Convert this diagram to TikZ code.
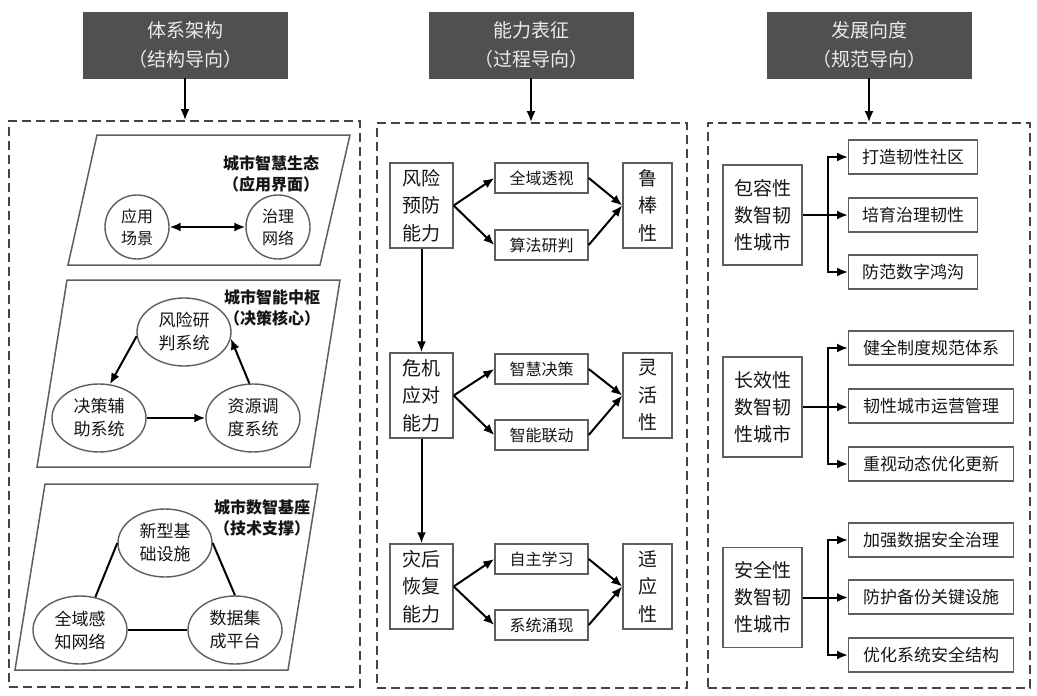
\documentclass[tikz,border=0pt]{standalone}
\usepackage{fontspec}
\setmainfont{Noto Sans CJK SC}
\usetikzlibrary{arrows.meta,shapes.geometric,calc}
\definecolor{hdrgray}{HTML}{505050}
\definecolor{linegray}{HTML}{5E5E5E}
\definecolor{dashgray}{HTML}{444444}
\definecolor{txt}{HTML}{151515}
\begin{document}
\begin{tikzpicture}[x=1pt,y=-1pt,
  hdr/.style={fill=hdrgray, draw=hdrgray, text=white!92!black, minimum width=204pt, minimum height=66pt, inner sep=0pt, align=center, font=\fontsize{19}{29}\selectfont},
  dbox/.style={draw=dashgray, line width=1.8pt, dash pattern=on 9pt off 5pt, inner sep=0pt},
  pline/.style={draw=linegray, line width=1.5pt},
  ell/.style={ellipse, draw=linegray, line width=1.4pt, minimum width=94pt, minimum height=68pt, inner sep=0pt, align=center, text=txt, font=\fontsize{17}{23}\selectfont},
  circ/.style={circle, draw=linegray, line width=1.4pt, minimum size=64pt, inner sep=0pt, align=center, text=txt, font=\fontsize{16}{22}\selectfont},
  ptitle/.style={align=center, text=txt, inner sep=0pt, font=\bfseries\fontsize{16}{21}\selectfont},
  mbox/.style={draw=linegray, line width=1.4pt, minimum width=63pt, minimum height=85pt, inner sep=0pt, align=center, text=txt, font=\fontsize{19}{27.5}\selectfont},
  sbox/.style={draw=linegray, line width=1.4pt, minimum width=93pt, minimum height=30pt, inner sep=0pt, align=center, text=txt, font=\fontsize{16}{20}\selectfont},
  rbox/.style={draw=linegray, line width=1.4pt, minimum width=49pt, minimum height=85pt, inner sep=0pt, align=center, text=txt, font=\fontsize{19}{27.5}\selectfont},
  rmain/.style={draw=linegray, line width=1.4pt, minimum width=79pt, minimum height=100pt, inner sep=0pt, align=center, text=txt, font=\fontsize{19}{27}\selectfont},
  rsubA/.style={draw=linegray, line width=1.4pt, anchor=west, minimum width=129pt, minimum height=34pt, inner sep=0pt, align=center, text=txt, font=\fontsize{17}{20}\selectfont},
  rsubB/.style={rsubA, minimum width=165pt},
  arr/.style={-{Latex[length=11pt,width=9pt]}, line width=2pt, black},
  darr/.style={{Latex[length=11pt,width=9pt]}-{Latex[length=11pt,width=9pt]}, line width=2pt, black},
  lnk/.style={line width=2pt, black}
]
\useasboundingbox[fill=white] (0,0) rectangle (1037,696);

% headers
\node[hdr] (h1) at (185,45) {体系架构\\（结构导向）};
\node[hdr] (h2) at (531,45) {能力表征\\（过程导向）};
\node[hdr] (h3) at (869,45) {发展向度\\（规范导向）};

% dashed frames
\node[dbox, minimum width=351pt, minimum height=566pt] (f1) at (184.5,404) {};
\node[dbox, minimum width=310pt, minimum height=565pt] (f2) at (532,405.5) {};
\node[dbox, minimum width=322pt, minimum height=565pt] (f3) at (869,405.5) {};

\draw[arr] (h1.south) -- (h1.south |- f1.north);
\draw[arr] (h2.south) -- (h2.south |- f2.north);
\draw[arr] (h3.south) -- (h3.south |- f3.north);

% ---------- left column ----------
\draw[pline] (97,135) -- (350,135) -- (320,265) -- (68,265) -- cycle;
\node[ptitle] (t1) at (271,174) {城市智慧生态\\（应用界面）};
\node[circ] (c1) at (137,227) {应用\\场景};
\node[circ] (c2) at (278,227) {治理\\网络};
\draw[darr] (c1) -- (c2);

\draw[pline] (67,280) -- (340,280) -- (310,467) -- (37,467) -- cycle;
\node[ptitle] (t2) at (272,308) {城市智能中枢\\（决策核心）};
\node[ell] (e1) at (184,332) {风险研\\判系统};
\node[ell] (e2) at (99,418) {决策辅\\助系统};
\node[ell] (e3) at (253,418) {资源调\\度系统};
\draw[arr] (e1.185) -- (e2.72);
\draw[arr] (e2.east) -- (e3.west);
\draw[arr] (e3.96) -- (e1.-8);

\draw[pline] (45,484) -- (318,484) -- (288,670) -- (15,670) -- cycle;
\node[ptitle] (t3) at (262,518) {城市数智基座\\（技术支撑）};
\node[ell] (g1) at (165,543) {新型基\\础设施};
\node[ell] (g2) at (80,630) {全域感\\知网络};
\node[ell] (g3) at (235,630) {数据集\\成平台};
\draw[lnk] (g1.west) -- (g2.65);
\draw[lnk] (g1.east) -- (g3.north);
\draw[lnk] (g2.east) -- (g3.west);

% ---------- middle column ----------
\node[mbox] (m1) at (421.5,205.5) {风险\\预防\\能力};
\node[sbox] (s11) at (541.5,178) {全域透视};
\node[sbox] (s12) at (541.5,245) {算法研判};
\node[rbox] (r1) at (647.5,205.5) {鲁\\棒\\性};

\node[mbox] (m2) at (421.5,395.5) {危机\\应对\\能力};
\node[sbox] (s21) at (541.5,369) {智慧决策};
\node[sbox] (s22) at (541.5,435) {智能联动};
\node[rbox] (r2) at (647.5,395.5) {灵\\活\\性};

\node[mbox] (m3) at (421.5,586.5) {灾后\\恢复\\能力};
\node[sbox] (s31) at (541.5,559) {自主学习};
\node[sbox] (s32) at (541.5,625) {系统涌现};
\node[rbox] (r3) at (647.5,586.5) {适\\应\\性};

\foreach \i in {1,2,3}{
  \draw[arr] (m\i.east) -- (s\i1.west);
  \draw[arr] (m\i.east) -- (s\i2.west);
  \draw[arr] (s\i1.east) -- (r\i.west);
  \draw[arr] (s\i2.east) -- (r\i.west);
}
\draw[arr] (m1.south) -- (m2.north);
\draw[arr] (m2.south) -- (m3.north);

% ---------- right column ----------
\node[rmain] (n1) at (762.5,215) {包容性\\数智韧\\性城市};
\node[rsubA] (q11) at (848,157) {打造韧性社区};
\node[rsubA] (q12) at (848,215) {培育治理韧性};
\node[rsubA] (q13) at (848,272) {防范数字鸿沟};

\node[rmain] (n2) at (762.5,407) {长效性\\数智韧\\性城市};
\node[rsubB] (q21) at (848,348) {健全制度规范体系};
\node[rsubB] (q22) at (848,406) {韧性城市运营管理};
\node[rsubB] (q23) at (848,464) {重视动态优化更新};

\node[rmain] (n3) at (762.5,597.5) {安全性\\数智韧\\性城市};
\node[rsubB] (q31) at (848,540) {加强数据安全治理};
\node[rsubB] (q32) at (848,597) {防护备份关键设施};
\node[rsubB] (q33) at (848,655) {优化系统安全结构};

\foreach \i in {1,2,3}{
  \draw[arr] (n\i.east) -- (n\i.east -| q\i2.west);
  \draw[arr] (n\i.east) -- ++(25,0) |- (q\i1.west);
  \draw[arr] (n\i.east) -- ++(25,0) |- (q\i3.west);
}
\end{tikzpicture}
\end{document}
